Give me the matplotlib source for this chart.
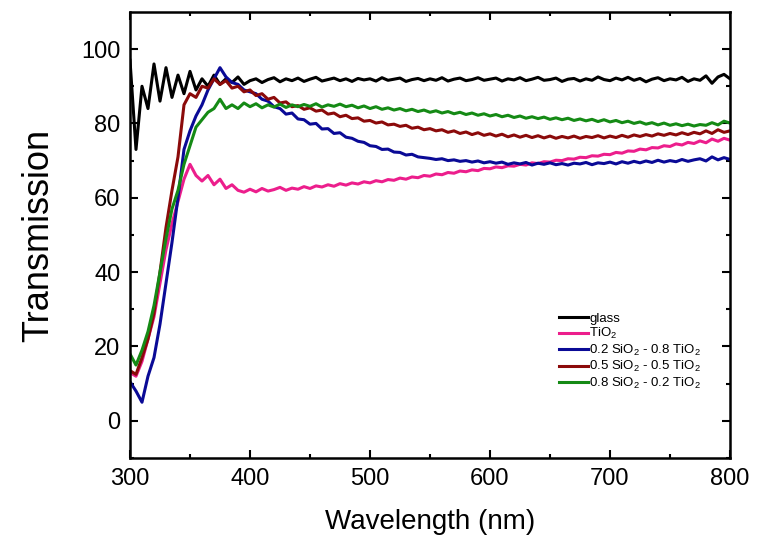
import numpy as np
import matplotlib
matplotlib.use("Agg")
import matplotlib.pyplot as plt

plt.rcParams['font.family'] = ['Liberation Sans', 'DejaVu Sans']
plt.rcParams['mathtext.fontset'] = 'custom'
plt.rcParams['mathtext.rm'] = 'Liberation Sans'

# wavelength grid (nm), 5 nm steps
wavelength = np.arange(300, 801, 5)

glass = [97, 73, 90, 84, 96, 86, 95, 87, 93, 88, 94, 89, 92, 90, 93, 90.5, 92, 91, 92.5, 90.5,
         91.5, 92, 91, 91.8, 92.3, 91.2, 92, 91.5, 92.2, 91.3, 91.9, 92.4, 91.4, 91.8, 92.2, 91.5, 92, 91.3, 92.1, 91.7,
         92, 91.4, 92.3, 91.6, 91.9, 92.2, 91.3, 91.8, 92.1, 91.5, 92, 91.6, 92.3, 91.4, 91.9, 92.2, 91.5, 91.8, 92.3, 91.6,
         91.9, 92.2, 91.4, 92, 91.7, 92.3, 91.5, 91.9, 92.4, 91.6, 91.8, 92.2, 91.3, 91.9, 92.1, 91.4, 92, 91.6, 92.5, 91.8,
         91.5, 92.2, 91.7, 92.4, 91.6, 92.1, 91.2, 91.9, 92.3, 91.5, 92, 91.7, 92.4, 91.3, 92, 91.6, 92.8, 90.8, 92.5, 93.2, 92]

tio2 = [13, 12, 16, 22, 28, 37, 46, 53, 59, 65, 69, 66, 64.5, 66, 63.5, 65, 62.5, 63.5, 62, 61.5,
        62.3, 61.6, 62.5, 61.8, 62.2, 62.8, 62, 62.6, 62.3, 63, 62.5, 63.2, 62.9, 63.5, 63.1, 63.8, 63.4, 64, 63.7, 64.3,
        64, 64.6, 64.3, 64.9, 64.7, 65.3, 65, 65.6, 65.4, 66, 65.8, 66.4, 66.2, 66.8, 66.6, 67.2, 67, 67.5, 67.3, 67.9,
        67.8, 68.3, 68.1, 68.6, 68.5, 69, 68.8, 69.4, 69.2, 69.7, 69.6, 70.1, 70, 70.5, 70.4, 70.9, 70.8, 71.3, 71.2, 71.7,
        71.6, 72.2, 72, 72.6, 72.5, 73.1, 72.9, 73.5, 73.4, 74, 73.8, 74.5, 74.2, 74.9, 74.6, 75.3, 74.8, 75.8, 75.2, 76, 75.5]

s02_t08 = [10.5, 8, 5, 12, 17, 26, 37, 48, 60, 73, 78, 82, 85, 89, 92, 95, 92.5, 91, 90.5, 89,
           88.5, 88, 86.5, 86, 84.5, 84, 82.5, 82.8, 81.2, 81, 79.8, 80, 78.5, 78.6, 77.3, 77.5, 76.3, 76, 75.2, 74.9,
           74, 73.8, 73, 73.1, 72.3, 72.2, 71.5, 71.7, 71, 70.8, 70.6, 70.3, 70.5, 70, 70.2, 69.8, 70, 69.6, 69.9, 69.4,
           69.7, 69.3, 69.6, 69, 69.4, 69.1, 69.5, 68.8, 69.3, 69, 69.4, 68.9, 69.2, 68.8, 69.3, 69.1, 69.5, 68.9, 69.4, 69.2,
           69.6, 69.1, 69.7, 69.3, 69.8, 69.4, 69.9, 69.5, 70.1, 69.6, 70, 69.7, 70.3, 69.8, 70.2, 70.5, 69.9, 71, 70.2, 70.8, 70.3]

s05_t05 = [13.5, 12.5, 17, 22, 29, 40, 52, 62, 71, 85, 88, 87, 90, 89.5, 92, 90.5, 91.5, 89.5, 90, 88.5,
           89, 87.5, 88, 86.5, 87, 85.5, 85.8, 84.5, 84.8, 83.8, 84.2, 83.3, 83.6, 82.5, 82.8, 81.8, 82.2, 81.3, 81.5, 80.6,
           80.8, 80.1, 80.4, 79.6, 79.8, 79.2, 79.5, 78.7, 79, 78.3, 78.6, 78, 78.3, 77.6, 78, 77.3, 77.7, 77, 77.5, 76.8,
           77.2, 76.6, 77.1, 76.4, 76.9, 76.3, 76.8, 76.2, 76.7, 76.1, 76.6, 76, 76.5, 76.1, 76.6, 76, 76.5, 76.2, 76.7, 76.1,
           76.6, 76.2, 76.8, 76.3, 76.9, 76.5, 77, 76.6, 77.2, 76.8, 77.3, 76.9, 77.5, 77, 77.6, 77.2, 78, 77.3, 78.3, 77.6, 78]

s08_t02 = [18, 15, 19, 24, 31, 40, 49, 57, 62, 69, 74, 79, 81, 83, 84, 86.5, 84, 85, 84, 85.5,
           84.5, 85.3, 84.2, 85, 84.4, 85.2, 84.3, 85, 84.5, 85.1, 84.6, 85.3, 84.4, 85, 84.6, 85.2, 84.5, 84.9, 84.2, 84.7,
           84, 84.5, 83.8, 84.2, 83.6, 84, 83.4, 83.8, 83.2, 83.6, 83, 83.4, 82.8, 83.2, 82.6, 83, 82.4, 82.8, 82.2, 82.6,
           82, 82.4, 81.8, 82.2, 81.6, 82, 81.4, 81.8, 81.3, 81.7, 81.1, 81.5, 81, 81.4, 80.8, 81.2, 80.7, 81.1, 80.5, 81,
           80.4, 80.8, 80.2, 80.6, 80, 80.4, 79.8, 80.2, 79.6, 80.1, 79.5, 79.9, 79.4, 79.8, 79.3, 79.7, 79.5, 80.2, 79.6, 80.6, 80.1]

labels = ['glass', 'TiO$_2$', '0.2 SiO$_2$ - 0.8 TiO$_2$', '0.5 SiO$_2$ - 0.5 TiO$_2$', '0.8 SiO$_2$ - 0.2 TiO$_2$']
series = [glass, tio2, s02_t08, s05_t05, s08_t02]
colors = ['black', '#EC1E8C', '#0A0A96', '#8B0A0A', '#158A15']

fig = plt.figure(figsize=(7.66, 5.59), dpi=100)
ax = fig.add_axes([0.1697, 0.1807, 0.7833, 0.798])

for y, c, lab in zip(series, colors, labels):
    ax.plot(wavelength, y, color=c, lw=2.2, label=lab)

ax.set_xlim(300, 800)
ax.set_ylim(-10, 110)
ax.set_xticks([300, 400, 500, 600, 700, 800])
ax.set_xticks([350, 450, 550, 650, 750], minor=True)
ax.set_yticks([0, 20, 40, 60, 80, 100])
ax.set_yticks([-10, 10, 30, 50, 70, 90], minor=True)
ax.tick_params(which='both', direction='in', top=True, right=True, width=1.5, labelsize=17)
ax.tick_params(which='major', length=6, pad=7)
ax.tick_params(which='minor', length=3)
for sp in ax.spines.values():
    sp.set_linewidth(1.8)

ax.set_xlabel('Wavelength (nm)', fontsize=20, labelpad=14)
ax.set_ylabel('Transmission', fontsize=26, labelpad=18)

ax.legend(loc='upper left', bbox_to_anchor=(0.695, 0.352), frameon=False, fontsize=9.5,
          handlelength=2.2, handletextpad=0.1, labelspacing=0.1)

fig.savefig('out.png', dpi=100)
